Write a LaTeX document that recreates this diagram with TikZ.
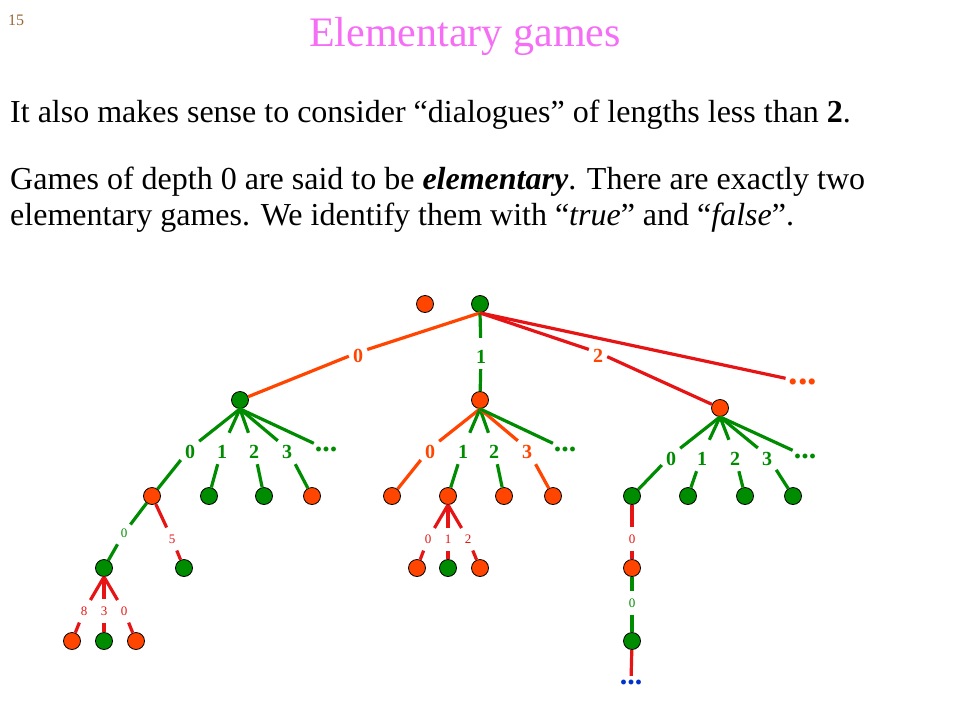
\documentclass[tikz,border=0pt]{standalone}
\usepackage{fontspec}
\setmainfont{Liberation Serif}

\definecolor{gcol}{RGB}{0,140,0}
\definecolor{rcol}{RGB}{230,20,20}
\definecolor{ocol}{RGB}{255,69,0}
\definecolor{pinkcol}{RGB}{245,110,245}
\definecolor{numcol}{RGB}{153,102,51}
\definecolor{bcol}{RGB}{0,51,204}

\tikzset{
  gnode/.style={circle, draw=black, line width=0.8pt, fill=gcol, minimum size=17pt, inner sep=0pt},
  rnode/.style={gnode, fill=ocol},
  lab/.style={anchor=base, inner xsep=4pt, inner ysep=6pt, text height=19pt, text depth=0pt,
    font=\fontsize{20}{24}\selectfont\bfseries},
  slab/.style={inner xsep=3pt, inner ysep=7pt, font=\fontsize{13}{15}\selectfont},
  more/.style={inner sep=3pt, text height=5pt, text depth=0pt, font=\fontsize{30}{30}\selectfont\bfseries},
  branch/.style={line width=3.2pt},
  slide/.style={anchor=base west, inner sep=0pt, font=\fontsize{32}{38}\selectfont},
}

\begin{document}
\begin{tikzpicture}[x=1pt,y=-1pt]
    \fill[white] (0,0) rectangle (960,720);
    \useasboundingbox (0,0) rectangle (960,720);

    % header and text
    \node[anchor=base west, inner sep=0pt, text=numcol, font=\fontsize{16}{18}\selectfont] (page) at (8,25) {15};
    \node[anchor=base, inner sep=0pt, text=pinkcol, font=\fontsize{42}{48}\selectfont] (title) at (465,46) {Elementary games};
    \node[slide] (para1) at (10,122) {It also makes sense to consider “dialogues” of lengths less than \textbf{2}.};
    \node[slide] (para2) at (10,189) {Games of depth 0 are said to be \textbf{\textit{elementary}}. There are exactly two};
    \node[slide] (para3) at (10,225) {elementary games. We identify them with “\textit{true}” and “\textit{false}”.};

    % root and first moves
    \node[rnode] (f) at (425,304) {};
    \node[gnode] (t) at (480,304) {};
    \node[gnode] (A) at (240,400) {};
    \node[rnode] (B) at (480,400) {};
    \node[rnode] (C) at (720,408) {};
    \node[lab, text=ocol] (l0) at (358,362) {0};
    \node[lab, text=gcol] (l1) at (481,363) {1};
    \node[lab, text=ocol] (l2) at (598,362) {2};
    \node[more, text=ocol, font=\fontsize{38}{38}\selectfont\bfseries] (ldots) at (803,382) {...};
    \draw[branch, ocol] (t.south) -- (l0) -- (A);
    \draw[branch, gcol] (t.south) -- (l1) -- (B);
    \draw[branch, rcol] (t.south) -- (l2) -- (C);
    \draw[branch, rcol] (t.south) -- (ldots);

    % answers after 0
    \foreach \i/\lx/\cx/\cs in {0/190/152/rnode,1/222/209/gnode,2/254/264/gnode,3/287/312/rnode}
    {
        \node[\cs] (a\i) at (\cx,496) {};
        \node[lab, text=gcol] (la\i) at (\lx,458) {\i};
        \draw[branch, gcol] (A.south) -- (la\i) -- (a\i);
    }
    \node[more, text=gcol] (adots) at (326,449) {...};
    \draw[branch, gcol] (A.south) -- (adots);

    % answers after 1
    \foreach \i/\lx/\cx/\ec in {0/430/392/ocol,1/463/448/gcol,2/494/504/gcol,3/527/553/ocol}
    {
        \node[rnode] (b\i) at (\cx,496) {};
        \node[lab, text=\ec] (lb\i) at (\lx,458) {\i};
        \draw[branch, \ec] (B.south) -- (lb\i) -- (b\i);
    }
    \node[more, text=gcol] (bdots) at (565,449) {...};
    \draw[branch, gcol] (B.south) -- (bdots);

    % answers after 2
    \foreach \i/\lx/\cx in {0/671/632,1/702/688,2/735/745,3/767/793}
    {
        \node[gnode] (c\i) at (\cx,496) {};
        \node[lab, text=gcol] (lc\i) at (\lx,465) {\i};
        \draw[branch, gcol] (C.south) -- (lc\i) -- (c\i);
    }
    \node[more, text=gcol] (cdots) at (805,456) {...};
    \draw[branch, gcol] (C.south) -- (cdots);

    % deeper moves, left
    \node[gnode] (d0) at (104,568) {};
    \node[gnode] (d1) at (184,568) {};
    \node[slab, text=gcol] (ld0) at (124,533) {0};
    \node[slab, text=rcol] (ld1) at (172,539) {5};
    \draw[branch, gcol] (a0) -- (ld0) -- (d0);
    \draw[branch, rcol] (a0) -- (ld1) -- (d1);
    \foreach \i/\lt/\lx/\cx/\cs in {0/8/84/72/rnode,1/3/104/104/gnode,2/0/124/136/rnode}
    {
        \node[\cs] (e\i) at (\cx,641) {};
        \node[slab, text=rcol] (le\i) at (\lx,611) {\lt};
        \draw[branch, rcol] (d0.south) -- (le\i) -- (e\i);
    }

    % deeper moves, middle
    \foreach \i/\lx/\cx/\cs in {0/428/417/rnode,1/448/448/gnode,2/468/480/rnode}
    {
        \node[\cs] (g\i) at (\cx,568) {};
        \node[slab, text=rcol] (lg\i) at (\lx,539) {\i};
        \draw[branch, rcol] (b1.south) -- (lg\i) -- (g\i);
    }

    % deeper moves, right
    \node[rnode] (h0) at (632,568) {};
    \node[gnode] (h1) at (632,641) {};
    \node[slab, text=rcol] (lh0) at (632,539) {0};
    \node[slab, text=gcol] (lh1) at (632,603) {0};
    \node[more, text=bcol, text height=4pt, inner sep=4pt, font=\fontsize{30}{30}\selectfont\bfseries] (hdots) at (631,682) {...};
    \draw[branch, rcol] (c0) -- (lh0) -- (h0);
    \draw[branch, gcol] (h0) -- (lh1) -- (h1);
    \draw[branch, rcol] (h1) -- (hdots);
\end{tikzpicture}
\end{document}
